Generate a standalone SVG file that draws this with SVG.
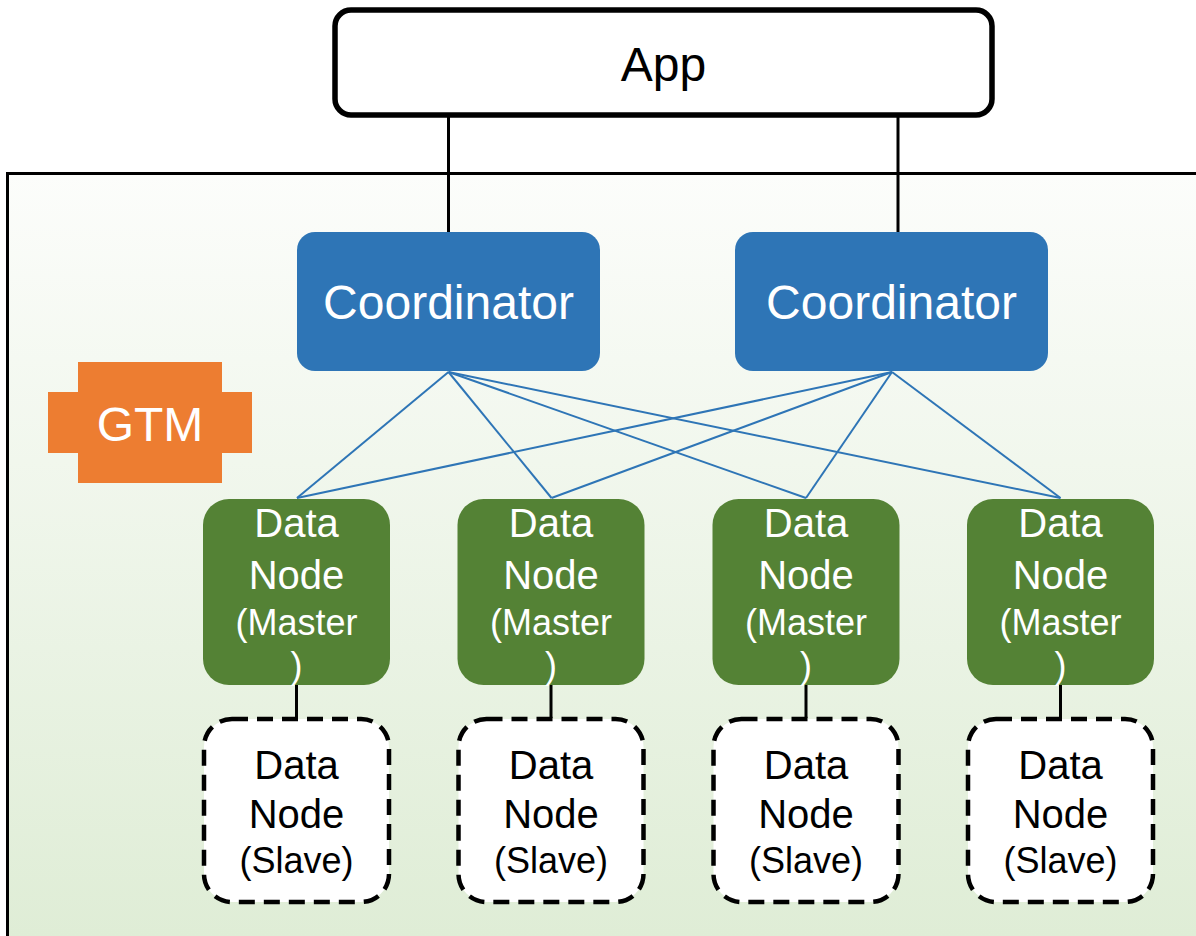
<svg xmlns="http://www.w3.org/2000/svg" width="1196" height="936" viewBox="0 0 1196 936">
  <defs>
    <linearGradient id="bg" x1="0" y1="173" x2="0" y2="936" gradientUnits="userSpaceOnUse">
      <stop offset="0" stop-color="#fcfdfb"/>
      <stop offset="1" stop-color="#dfedd6"/>
    </linearGradient>
  </defs>
  <style>
    text { font-family: "Liberation Sans", Arial, sans-serif; text-anchor: middle; }
    .app { fill: #ffffff; stroke: #000000; stroke-width: 5.5; }
    .coord { fill: #2e75b6; }
    .master { fill: #548235; }
    .slave { fill: #ffffff; stroke: #000000; stroke-width: 4.5; stroke-dasharray: 16 9; }
    .gtm { fill: #ed7d31; }
    .big { font-size: 48px; }
    .mid { font-size: 40px; }
    .sm { font-size: 36px; }
    .w { fill: #ffffff; }
    .k { fill: #000000; }
    .blk { stroke: #000000; stroke-width: 3; fill: none; }
    .blu { stroke: #2e75b6; stroke-width: 2; fill: none; }
  </style>

  <!-- cluster area -->
  <rect x="7.5" y="173.5" width="1200" height="780" fill="url(#bg)" stroke="#000000" stroke-width="3"/>

  <!-- links -->
  <g id="connectors">
    <line class="blk" x1="448.5" y1="117" x2="448.5" y2="232"/>
    <line class="blk" x1="898" y1="117" x2="898" y2="232"/>

    <line class="blu" x1="448.5" y1="372" x2="297" y2="498"/>
    <line class="blu" x1="448.5" y1="372" x2="551.5" y2="498"/>
    <line class="blu" x1="448.5" y1="372" x2="806" y2="498"/>
    <line class="blu" x1="448.5" y1="372" x2="1060.5" y2="498"/>
    <line class="blu" x1="892" y1="372" x2="297" y2="498"/>
    <line class="blu" x1="892" y1="372" x2="551.5" y2="498"/>
    <line class="blu" x1="892" y1="372" x2="806" y2="498"/>
    <line class="blu" x1="892" y1="372" x2="1060.5" y2="498"/>

    <line class="blk" x1="296.5" y1="685" x2="296.5" y2="718"/>
    <line class="blk" x1="551" y1="685" x2="551" y2="718"/>
    <line class="blk" x1="806" y1="685" x2="806" y2="718"/>
    <line class="blk" x1="1060.5" y1="685" x2="1060.5" y2="718"/>
  </g>

  <g id="app">
    <rect class="app" x="335" y="10" width="657" height="105" rx="16"/>
    <text class="big k" x="663.5" y="81">App</text>
  </g>

  <g id="coordinator-1">
    <rect class="coord" x="297" y="232" width="303" height="139" rx="18"/>
    <text class="big w" x="448.5" y="319">Coordinator</text>
  </g>
  <g id="coordinator-2">
    <rect class="coord" x="735" y="232" width="313" height="139" rx="18"/>
    <text class="big w" x="891.5" y="319">Coordinator</text>
  </g>

  <g id="gtm">
    <path class="gtm" d="M78 362 H222 V392 H252 V453 H222 V483 H78 V453 H48 V392 H78 Z"/>
    <text class="big w" x="150" y="441">GTM</text>
  </g>

  <g id="master-1">
    <rect class="master" x="203" y="499" width="187" height="186" rx="26"/>
    <text class="mid w" x="296.5" y="537">Data</text>
    <text class="mid w" x="296.5" y="589">Node</text>
    <text class="sm w" x="296.5" y="635">(Master</text>
    <text class="sm w" x="296.5" y="678">)</text>
  </g>
  <g id="master-2">
    <rect class="master" x="457.5" y="499" width="187" height="186" rx="26"/>
    <text class="mid w" x="551" y="537">Data</text>
    <text class="mid w" x="551" y="589">Node</text>
    <text class="sm w" x="551" y="635">(Master</text>
    <text class="sm w" x="551" y="678">)</text>
  </g>
  <g id="master-3">
    <rect class="master" x="712.5" y="499" width="187" height="186" rx="26"/>
    <text class="mid w" x="806" y="537">Data</text>
    <text class="mid w" x="806" y="589">Node</text>
    <text class="sm w" x="806" y="635">(Master</text>
    <text class="sm w" x="806" y="678">)</text>
  </g>
  <g id="master-4">
    <rect class="master" x="967" y="499" width="187" height="186" rx="26"/>
    <text class="mid w" x="1060.5" y="537">Data</text>
    <text class="mid w" x="1060.5" y="589">Node</text>
    <text class="sm w" x="1060.5" y="635">(Master</text>
    <text class="sm w" x="1060.5" y="678">)</text>
  </g>

  <g id="slave-1">
    <rect class="slave" x="204" y="719" width="185" height="183" rx="28"/>
    <text class="mid k" x="296.5" y="779">Data</text>
    <text class="mid k" x="296.5" y="828">Node</text>
    <text class="sm k" x="296.5" y="873">(Slave)</text>
  </g>
  <g id="slave-2">
    <rect class="slave" x="458.5" y="719" width="185" height="183" rx="28"/>
    <text class="mid k" x="551" y="779">Data</text>
    <text class="mid k" x="551" y="828">Node</text>
    <text class="sm k" x="551" y="873">(Slave)</text>
  </g>
  <g id="slave-3">
    <rect class="slave" x="713.5" y="719" width="185" height="183" rx="28"/>
    <text class="mid k" x="806" y="779">Data</text>
    <text class="mid k" x="806" y="828">Node</text>
    <text class="sm k" x="806" y="873">(Slave)</text>
  </g>
  <g id="slave-4">
    <rect class="slave" x="968" y="719" width="185" height="183" rx="28"/>
    <text class="mid k" x="1060.5" y="779">Data</text>
    <text class="mid k" x="1060.5" y="828">Node</text>
    <text class="sm k" x="1060.5" y="873">(Slave)</text>
  </g>
</svg>
